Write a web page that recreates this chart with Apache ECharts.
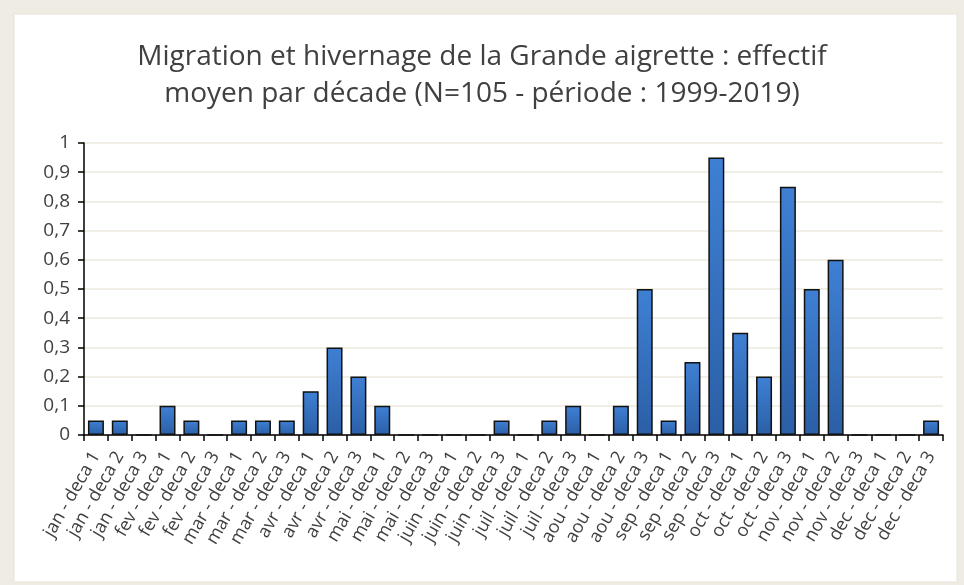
<!DOCTYPE html>
<html><head><meta charset="utf-8">
<script src="https://cdn.jsdelivr.net/npm/echarts@6/dist/echarts.min.js"></script>
<style>html,body{margin:0;padding:0;background:#efece4;}#c{width:964px;height:585px;}</style>
</head><body><div id="c"></div>
<script>
const months = ['jan','fev','mar','avr','mai','juin','juil','aou','sep','oct','nov','dec'];
const categories = [];
months.forEach(m => { for (let d = 1; d <= 3; d++) categories.push(m + ' - deca ' + d); });
const values = [
  0.05, 0.05, 0,
  0.10, 0.05, 0,
  0.05, 0.05, 0.05,
  0.15, 0.30, 0.20,
  0.10, 0, 0,
  0, 0, 0.05,
  0, 0.05, 0.10,
  0, 0.10, 0.50,
  0.05, 0.25, 0.95,
  0.35, 0.20, 0.85,
  0.50, 0.60, 0,
  0, 0, 0.05
];
const titleText = 'Migration et hivernage de la Grande aigrette : effectif\nmoyen par décade (N=105 - période : 1999-2019)';

const chart = echarts.init(document.getElementById('c'));
chart.setOption({
  backgroundColor: '#efece4',
  animation: false,
  graphic: [{
    type: 'rect', z: -10,
    shape: { x: 14, y: 14, width: 943, height: 568 },
    style: { fill: '#ffffff', stroke: '#e6e2d6', lineWidth: 1 }
  }],
  title: {
    text: titleText,
    left: 'center', top: 34,
    textStyle: { fontFamily: 'Open Sans', fontSize: 28, fontWeight: 'normal', color: '#404040', lineHeight: 37 }
  },
  grid: { left: 84, right: 21, top: 143, bottom: 150, containLabel: false },
  xAxis: {
    type: 'category',
    data: categories,
    axisLine: { lineStyle: { color: '#000', width: 1.5 } },
    axisTick: { show: true, length: 6, lineStyle: { color: '#000', width: 1.5 } },
    axisLabel: { interval: 0, rotate: 60, fontFamily: 'Open Sans', fontSize: 18, color: '#404040', margin: 18 }
  },
  yAxis: {
    type: 'value', min: 0, max: 1, interval: 0.1,
    axisLine: { show: true, lineStyle: { color: '#000', width: 1.5 } },
    axisTick: { show: true, length: 6, lineStyle: { color: '#000', width: 1.5 } },
    splitLine: { lineStyle: { color: '#ece8dc', width: 1.5 } },
    axisLabel: {
      fontFamily: 'Open Sans', fontSize: 19, color: '#404040', margin: 14,
      formatter: v => String(Math.round(v * 10) / 10).replace('.', ',')
    }
  },
  series: [{
    type: 'bar',
    data: values,
    barCategoryGap: '33%',
    itemStyle: {
      color: new echarts.graphic.LinearGradient(0, 0, 0, 1, [
        { offset: 0, color: '#3f80d4' },
        { offset: 1, color: '#2b5fa6' }
      ]),
      borderColor: '#111',
      borderWidth: 1.5
    }
  }]
});
</script></body></html>
